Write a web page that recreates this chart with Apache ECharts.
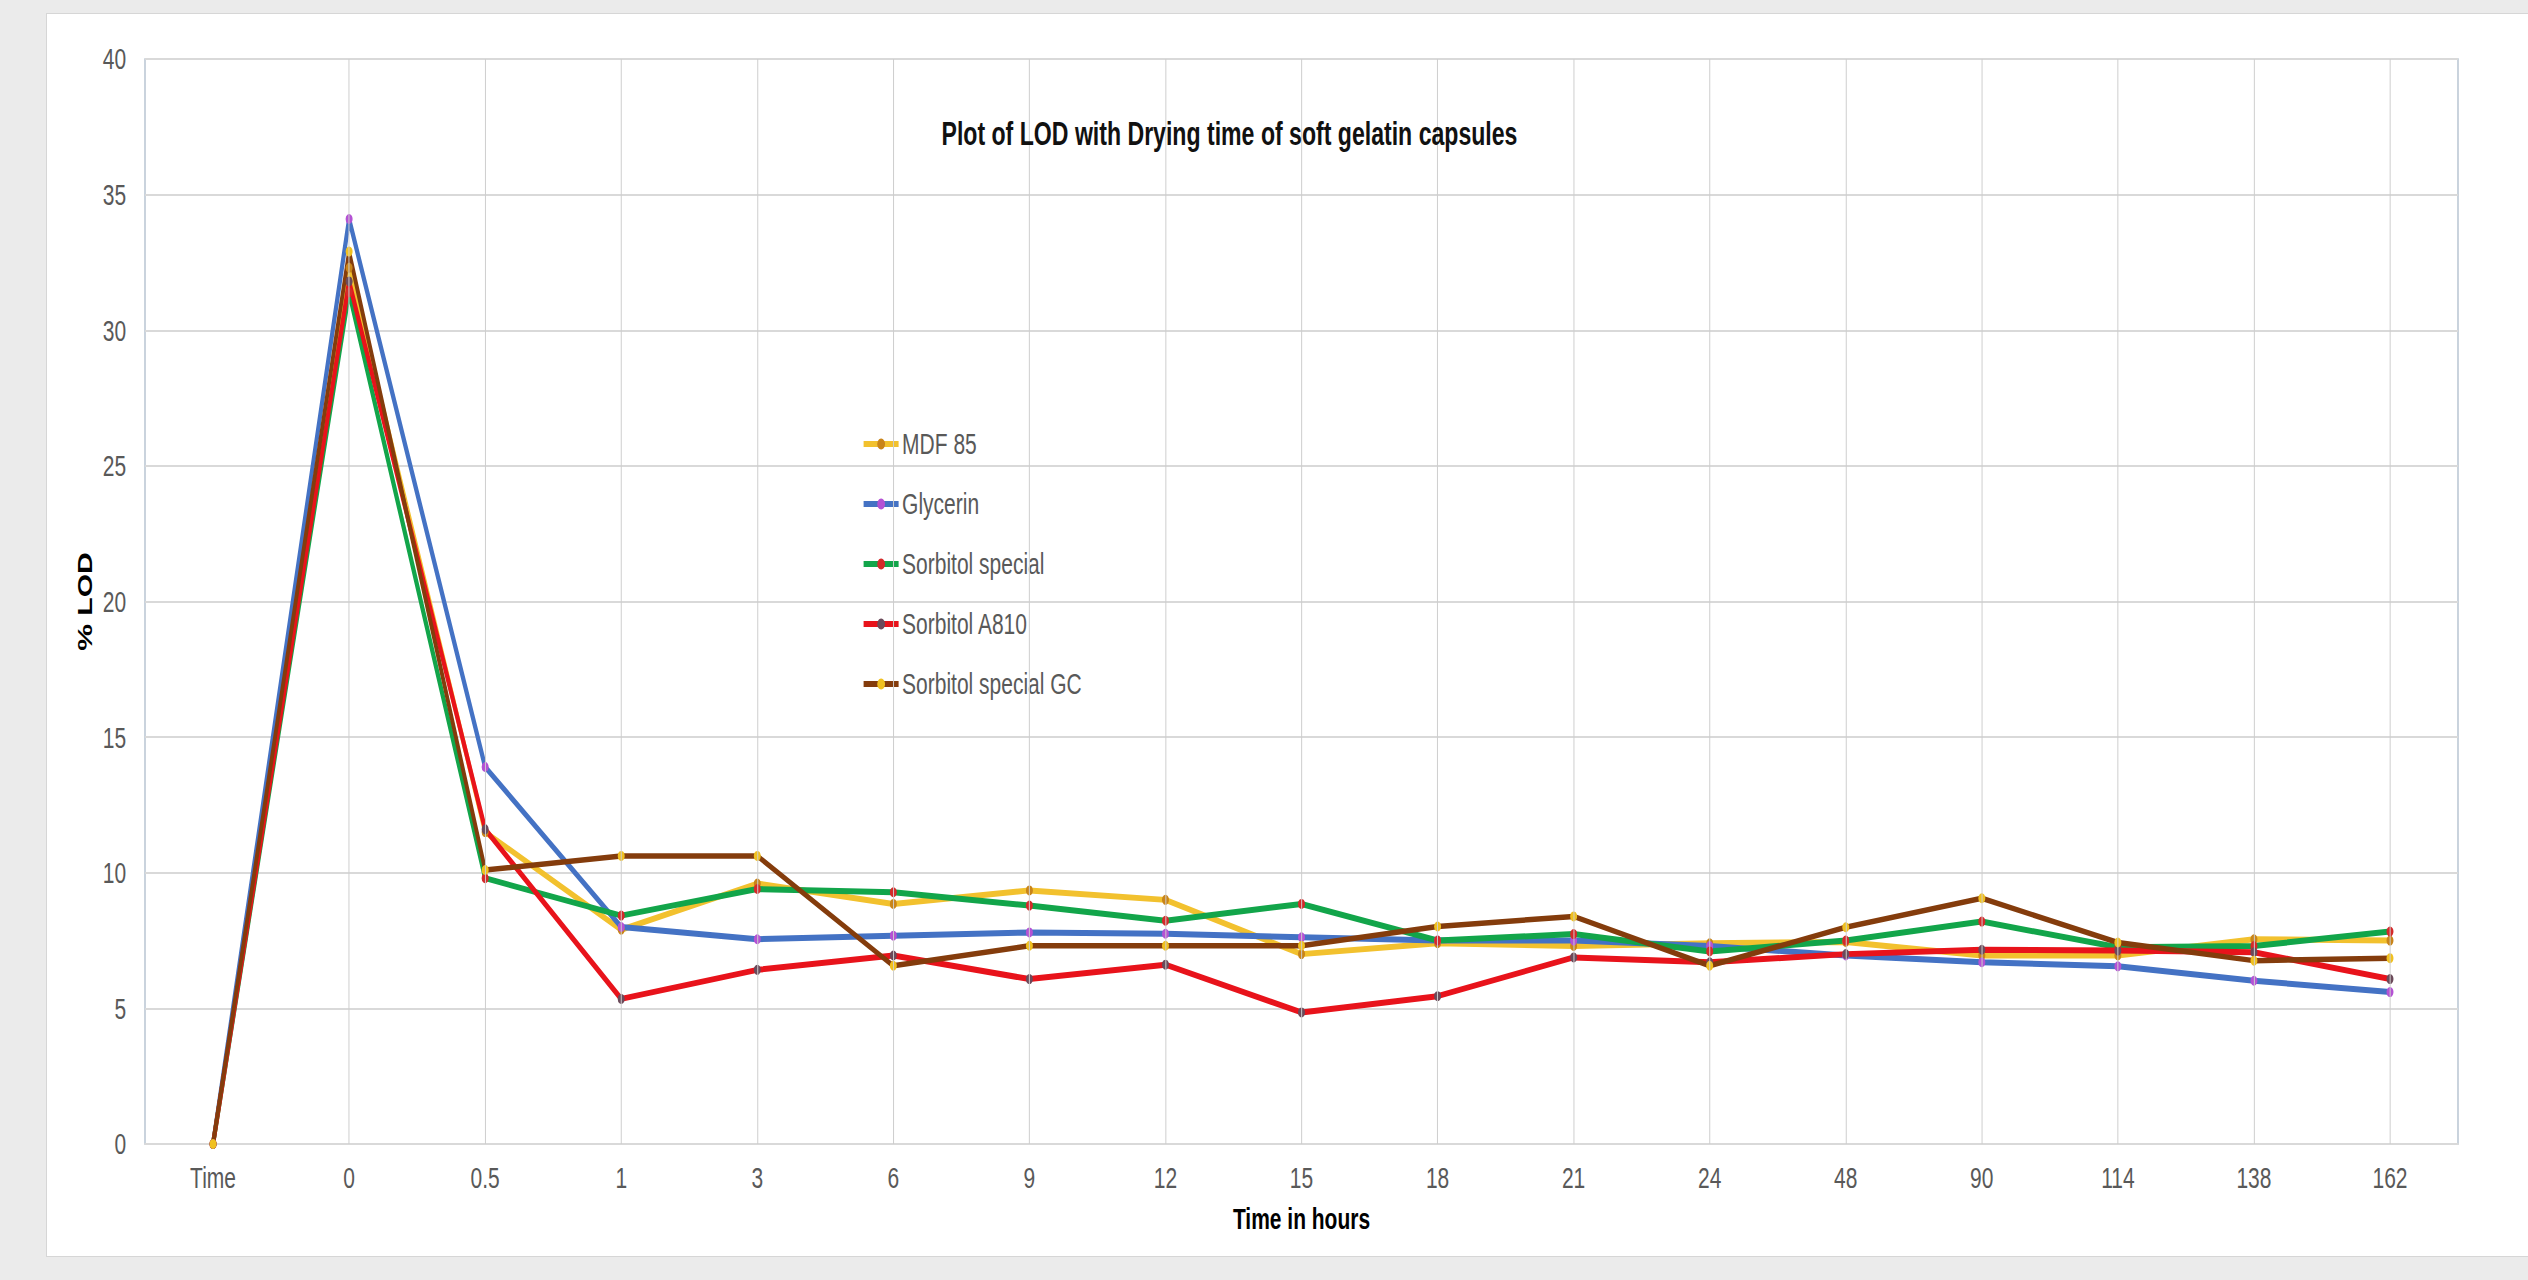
<!DOCTYPE html>
<html>
<head>
<meta charset="utf-8">
<title>Plot of LOD with Drying time of soft gelatin capsules</title>
<script src="https://cdn.jsdelivr.net/npm/echarts@6/dist/echarts.min.js"></script>
<style>
  html, body { margin: 0; padding: 0; width: 2528px; height: 1280px; overflow: hidden; background: #ebebeb; }
  #card { position: absolute; left: 46px; top: 13px; width: 2490px; height: 1242px; background: #fff; border: 1px solid #d6d6d6; }
  #chart { position: absolute; left: 0; top: 0; width: 3612px; height: 1280px; transform: scaleX(0.7); transform-origin: 0 0; }
</style>
</head>
<body>
<div id="card"></div>
<div id="chart"></div>
<script>
// Drying time (hours) on the category axis
const categories = ['Time', '0', '0.5', '1', '3', '6', '9', '12', '15', '18', '21', '24', '48', '90', '114', '138', '162'];

// % loss on drying for each fill formulation
const mdf85            = [0, 32.3, 11.5, 7.9, 9.6, 8.85, 9.35, 9.0, 7.0, 7.4, 7.3, 7.4, 7.45, 6.95, 6.95, 7.55, 7.5];
const glycerin         = [0, 34.1, 13.9, 8.0, 7.55, 7.68, 7.8, 7.75, 7.62, 7.5, 7.5, 7.3, 6.95, 6.7, 6.55, 6.02, 5.6];
const sorbitolSpecial  = [0, 31.4, 9.8, 8.42, 9.4, 9.28, 8.79, 8.23, 8.85, 7.5, 7.74, 7.1, 7.5, 8.2, 7.25, 7.3, 7.83];
const sorbitolA810     = [0, 31.8, 11.6, 5.35, 6.42, 6.95, 6.08, 6.61, 4.85, 5.45, 6.88, 6.7, 7.0, 7.16, 7.13, 7.07, 6.08];
const sorbitolSpecGC   = [0, 32.9, 10.1, 10.62, 10.62, 6.57, 7.31, 7.31, 7.31, 8.02, 8.39, 6.57, 7.99, 9.06, 7.43, 6.76, 6.85];

const seriesNames = ['MDF 85', 'Glycerin', 'Sorbitol special', 'Sorbitol A810', 'Sorbitol special GC'];
const seriesValues = [mdf85, glycerin, sorbitolSpecial, sorbitolA810, sorbitolSpecGC];
const lineColors   = ['#f2c12e', '#4472c4', '#12a54a', '#e8131b', '#843c0c'];
const markerColors = ['#c98419', '#b452d4', '#d42a2a', '#6b4a5a', '#f0c020'];
const lineWidths   = [6, 6, 6, 6, 5.5];

const yTicks = { min: 0, max: 40, interval: 5 };

// The drawing is laid out wide and squeezed horizontally by the container.
const SX = 0.7;
const W = 3612;
const px = x => x / SX;

const FONT = "'Liberation Sans', Arial, Helvetica, sans-serif";

const chart = echarts.init(document.getElementById('chart'), null, { renderer: 'svg' });

const lineSeries = seriesNames.map((name, i) => ({
  name: name,
  type: 'line',
  data: seriesValues[i],
  z: 3,
  symbol: 'circle',
  symbolSize: 10,
  showSymbol: true,
  lineStyle: { color: lineColors[i], width: lineWidths[i] },
  itemStyle: { color: markerColors[i], borderWidth: 0 },
  emphasis: { disabled: true }
}));

// vertical guide lines through every measured time point
const guideSeries = {
  type: 'line',
  data: [],
  z: 1,
  silent: true,
  markLine: {
    silent: true,
    symbol: ['none', 'none'],
    label: { show: false },
    lineStyle: { color: '#cdcdcd', width: 1.4, type: 'solid' },
    data: categories.slice(1).map((c, i) => ({ xAxis: i + 1 }))
  }
};

chart.setOption({
  animation: false,
  backgroundColor: 'transparent',
  textStyle: { fontFamily: FONT },
  title: {
    text: 'Plot of LOD with Drying time of soft gelatin capsules',
    left: px(938),
    top: 112,
    textStyle: { fontFamily: FONT, fontSize: 33, fontWeight: 'bold', color: '#111' }
  },
  legend: {
    data: seriesNames,
    orient: 'vertical',
    left: px(858),
    top: 424,
    itemGap: 30,
    itemWidth: 50,
    itemHeight: 14,
    lineStyle: { width: 6 },
    textStyle: { fontFamily: FONT, fontSize: 30, color: '#595959' }
  },
  grid: {
    left: px(145),
    right: W - px(2458),
    top: 59,
    bottom: 1280 - 1144,
    show: true,
    borderColor: '#93a6ba',
    borderWidth: 1.4,
    backgroundColor: 'transparent',
    containLabel: false
  },
  xAxis: {
    type: 'category',
    data: categories,
    boundaryGap: true,
    name: 'Time in hours',
    nameLocation: 'middle',
    nameGap: 60,
    nameTextStyle: { fontFamily: FONT, fontSize: 30, fontWeight: 'bold', color: '#000' },
    axisLine: { show: true, lineStyle: { color: '#d9d9d9', width: 2 } },
    axisTick: { show: false },
    splitLine: { show: false },
    axisLabel: { margin: 19, fontFamily: FONT, fontSize: 30, color: '#595959', interval: 0 }
  },
  yAxis: {
    type: 'value',
    min: yTicks.min,
    max: yTicks.max,
    interval: yTicks.interval,
    name: '% LOD',
    nameLocation: 'middle',
    nameRotate: 90,
    nameGap: 70,
    nameTextStyle: { fontFamily: FONT, fontSize: 30, fontWeight: 'bold', color: '#000' },
    axisLine: { show: false },
    axisTick: { show: false },
    splitLine: { show: true, lineStyle: { color: '#d9d9d9', width: 2 } },
    axisLabel: { margin: 27, fontFamily: FONT, fontSize: 30, color: '#595959' }
  },
  series: [guideSeries].concat(lineSeries)
});
</script>
</body>
</html>
